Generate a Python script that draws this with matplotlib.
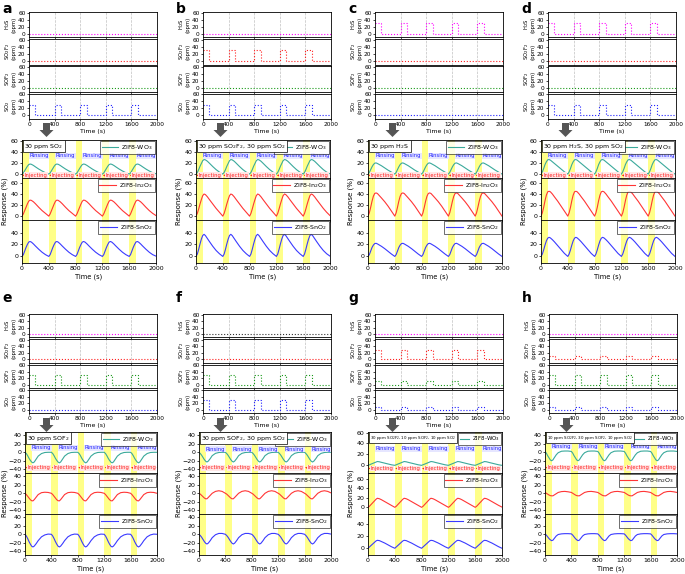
import numpy as np
import matplotlib
matplotlib.use("Agg")
import matplotlib.pyplot as plt
from matplotlib.patches import Polygon

plt.rcParams['font.family'] = ['DejaVu Sans']
plt.rcParams['mathtext.default'] = 'regular'

W, H = 685, 574
fig = plt.figure(figsize=(W / 100, H / 100), dpi=100)

# ---------------- data ----------------
panels = ['a', 'b', 'c', 'd', 'e', 'f', 'g', 'h']
gases = ['H$_2$S', 'SO$_2$F$_2$', 'SOF$_2$', 'SO$_2$']
gas_colors = ['#ff00ff', '#ff2020', '#1a9a1a', '#2020ff']

# pulse amplitudes (ppm) for H2S, SO2F2, SOF2, SO2
conc_a = [0, 0, 0, 30]
conc_b = [0, 30, 0, 30]
conc_c = [30, 0, 0, 0]
conc_d = [30, 0, 0, 30]
conc_e = [0, 0, 30, 0]
conc_f = [0, 0, 30, 30]
conc_g = [0, 30, 10, 10]
conc_h = [0, 10, 30, 10]
conc = [conc_a, conc_b, conc_c, conc_d, conc_e, conc_f, conc_g, conc_h]

pulse_starts = [0, 400, 800, 1200, 1600]
pulse_len = 100
t_end = 2000

titles = ['30 ppm SO$_2$', '30 ppm SO$_2$F$_2$, 30 ppm SO$_2$', '30 ppm H$_2$S',
          '30 ppm H$_2$S, 30 ppm SO$_2$', '30 ppm SOF$_2$', '30 ppm SOF$_2$, 30 ppm SO$_2$',
          '30 ppm SO$_2$F$_2$, 10 ppm SOF$_2$, 10 ppm SO$_2$',
          '10 ppm SO$_2$F$_2$, 30 ppm SOF$_2$, 10 ppm SO$_2$']

# one response cycle (time within cycle, s)
cycle_t = [0, 20, 40, 60, 80, 100, 120, 140, 170, 200, 250, 300, 350, 400]

wo3_a = [0, 2, 6, 10, 14, 17, 18, 17.5, 15.5, 13, 9, 5.5, 2.5, 0.5]
in_a = [0, 4, 10, 16, 22, 27, 29, 28.5, 26, 22.5, 16, 10, 5, 1]
sn_a = [0, 3, 9, 15, 20, 24, 25, 24, 21, 17.5, 12, 7, 3, 0.5]

wo3_b = [0, 3, 8, 14, 19, 24, 26, 25.5, 23, 19.5, 13.5, 8, 3.5, 0.5]
in_b = [0, 5, 13, 22, 30, 37, 40, 39, 35, 30, 22, 14, 7, 1]
sn_b = [0, 4, 12, 21, 29, 35, 37, 35, 30, 25, 17, 10, 4.5, 0.5]

wo3_c = [0, 3, 8, 13, 17, 19.5, 20, 19, 17, 15, 11, 7, 3.5, 0]
in_c = [0, 6, 16, 27, 36, 41, 42, 41, 37, 33, 26, 18, 9, 0]
sn_c = [0, 3, 9, 15, 19, 21.5, 22, 21, 19, 17, 13, 8.5, 4, 0]

wo3_d = [0, 4, 10, 17, 22, 25.5, 26, 25, 22, 19, 14, 9, 4, 0]
in_d = [0, 6, 16, 28, 38, 44, 45, 44, 40, 35, 27, 18, 9, 0]
sn_d = [0, 4, 11, 19, 26, 30.5, 32, 31, 28, 24.5, 18, 11.5, 5, 0]

wo3_e = [0, -3, -8, -14, -19, -23, -25, -23, -16, -9, -3, -0.5, 0, 0]
in_e = [0, -3, -7, -11, -15, -17.5, -18, -15, -9, -3, 1.5, 2.5, 2, 0]
sn_e = [0, -4, -10, -17, -23, -28, -30, -28, -22, -15, -6, -1.5, 0.5, 0]

wo3_f = [0, -3, -7, -12, -17, -21, -23, -21, -15, -8, -2.5, -0.5, 0, 0]
in_f = [0, -2, -5, -8, -11, -13, -13, -10, -5, 0, 4.5, 6, 4.5, 1]
sn_f = [0, -3, -7, -12, -17, -21, -23, -21, -15, -8, -1, 2, 2, 0.5]

wo3_g = [0, 1, 2, 3, 4, 5, 6, 7, 6.5, 5.5, 4, 2.5, 1, 0]
in_g = [0, 2, 5, 8, 11, 14, 17, 19, 18, 16, 12, 8, 4, 0.5]
sn_g = [0, 2, 4, 6, 8, 10, 12, 13, 12.5, 11, 8.5, 5.5, 2.5, 0]

wo3_h = [2, -2, -8, -13, -18, -20, -18, -13, -6, -1, 2.5, 3, 3, 2]
in_h = [2, 0, -2, -4, -5.5, -6, -6, -4, -1, 2, 4, 4.5, 3.5, 2]
sn_h = [1, -2, -6, -10, -13, -15, -14, -10, -4, -0.5, 1, 1.5, 1.5, 1]

responses = [(wo3_a, in_a, sn_a), (wo3_b, in_b, sn_b), (wo3_c, in_c, sn_c), (wo3_d, in_d, sn_d),
             (wo3_e, in_e, sn_e), (wo3_f, in_f, sn_f), (wo3_g, in_g, sn_g), (wo3_h, in_h, sn_h)]
sensors = ['ZIF8-WO$_3$', 'ZIF8-In$_2$O$_3$', 'ZIF8-SnO$_2$']
sensor_colors = ['#3aa99b', '#ff3535', '#3a3aff']
negative = [False, False, False, False, True, True, False, True]

# ---------------- layout helpers ----------------
def add_ax(x0, y0, x1, y1):
    return fig.add_axes([x0 / W, 1 - y1 / H, (x1 - x0) / W, (y1 - y0) / H])

def style(ax):
    for s in ax.spines.values():
        s.set_linewidth(0.6)
    ax.tick_params(labelsize=4.5, length=1.5, width=0.5, pad=1)

def build_cycle(vals):
    t, v = [], []
    for k in range(5):
        t += [ct + 400 * k for ct in cycle_t[:-1]]
        v += vals[:-1]
    t.append(t_end)
    v.append(vals[-1])
    return np.array(t), np.array(v)

def build_pulse(amp):
    t, v = [0], [amp]
    for i, s in enumerate(pulse_starts):
        if i > 0:
            t += [s, s]
            v += [0, amp]
        t += [s + pulse_len, s + pulse_len]
        v += [amp, 0]
    t.append(t_end)
    v.append(0)
    return np.array(t), np.array(v)

col_off_top = [0, 174, 346, 519]
col_off_bot = [0, 174, 346, 520]

for p in range(8):
    row = p // 4
    X = (col_off_top if row == 0 else col_off_bot)[p % 4]
    if row == 0:
        cy0, cy1, gap = 12, 119, 2
        ry = [140, 178, 220, 263]
        letter_y = 9
        arrow_y = 123
    else:
        cy0, cy1, gap = 314, 413, 2
        ry = [432, 473, 514, 555]
        letter_y = 298
        arrow_y = 418
    fig.text((X + 2) / W, 1 - letter_y / H, panels[p], fontsize=10, fontweight='bold',
             va='center', ha='left')

    # concentration axes
    hh = (cy1 - cy0 - 3 * gap) / 4
    for g in range(4):
        y0 = cy0 + g * (hh + gap)
        ax = add_ax(X + 29, y0, X + 157, y0 + hh)
        style(ax)
        tt, vv = build_pulse(conc[p][g])
        col = gas_colors[g]
        if p == 5 and g == 0:
            col = '#333333'
        ax.plot(tt, vv, ls=':', color=col, lw=0.8)
        ax.set_xlim(0, 2000)
        ax.set_ylim(-10, 62)
        ax.set_yticks([0, 20, 40, 60])
        ax.set_xticks([0, 400, 800, 1200, 1600, 2000])
        for xv in [400, 800, 1200, 1600]:
            ax.axvline(xv, ls='--', color='#c0c0c0', lw=0.5, zorder=0)
        ax.set_ylabel(gases[g] + '\n(ppm)', fontsize=3.8, labelpad=1, linespacing=0.9)
        ax.tick_params(labelsize=4.2)
        if g < 3:
            ax.tick_params(labelbottom=False)
        else:
            ax.set_xlabel('Time (s)', fontsize=4.5, labelpad=1)

    # arrow
    ax_x = X + 46.5
    pts = [(ax_x - 3.5, arrow_y), (ax_x + 3.5, arrow_y), (ax_x + 3.5, arrow_y + 7),
           (ax_x + 7, arrow_y + 7), (ax_x, arrow_y + 14), (ax_x - 7, arrow_y + 7),
           (ax_x - 3.5, arrow_y + 7)]
    fig.patches.append(Polygon([(x / W, 1 - y / H) for x, y in pts], closed=True,
                               transform=fig.transFigure, fc='#555555', ec='none', zorder=5))

    # response axes
    neg = negative[p]
    rx0 = X + (25 if neg else 22)
    rx1 = X + (157 if neg else 156)
    fig.text((X + 5) / W, 1 - (ry[0] + ry[3]) / 2 / H, 'Response (%)', fontsize=5,
             rotation=90, va='center', ha='center')
    small = p >= 6
    for i in range(3):
        ax = add_ax(rx0, ry[i], rx1, ry[i + 1])
        style(ax)
        for s in pulse_starts:
            ax.axvspan(s, s + pulse_len, color='#ffff88', lw=0, zorder=0)
        tt, vv = build_cycle(responses[p][i])
        ax.plot(tt, vv, color=sensor_colors[i], lw=0.8, label=sensors[i])
        ax.set_xlim(0, 2000)
        ax.set_xticks([0, 400, 800, 1200, 1600, 2000])
        if neg:
            ax.set_ylim(-49, 48)
            ax.set_yticks([-40, -20, 0, 20, 40])
        else:
            if i == 0:
                ax.set_ylim(-7, 61)
                if p == 6:
                    ax.set_ylim(-14, 61)
                ax.set_yticks([0, 20, 40, 60])
            elif i == 1:
                ax.set_ylim(-7, 69)
                if p == 6:
                    ax.set_ylim(-14, 72)
                ax.set_yticks([0, 20, 40, 60])
            else:
                ax.set_ylim(-11, 61)
                if p == 6:
                    ax.set_ylim(-11, 56)
                ax.set_yticks([0, 20, 40])
        if small and i == 0:
            leg = ax.legend(loc='upper right', fontsize=4.0, frameon=True, fancybox=False,
                            edgecolor='k', borderpad=0.25, handlelength=1.7,
                            handletextpad=0.4, borderaxespad=0.2)
        else:
            leg = ax.legend(loc='upper right', fontsize=4.5, frameon=True, fancybox=False,
                            edgecolor='k', borderpad=0.3, handlelength=2.6,
                            handletextpad=0.5, borderaxespad=0.2)
        leg.get_frame().set_linewidth(0.5)
        if i < 2:
            ax.tick_params(labelbottom=False)
        else:
            ax.set_xlabel('Time (s)', fontsize=4.8, labelpad=1.5)
        if i == 0:
            fs = 2.9 if small else 4.5
            ax.text(0.015, 0.955, titles[p], transform=ax.transAxes, fontsize=fs, va='top',
                    ha='left', bbox=dict(fc='white', ec='k', lw=0.5, pad=1.0), zorder=6)
            tr = ax.get_xaxis_transform()
            if neg:
                yr = {4: 0.62, 5: 0.58, 7: 0.65}[p]
                yi = 0.13
            else:
                yr = 0.59
                yi = 0.07 if p != 6 else 0.11
            for k in range(5):
                b = 400 * k
                ax.annotate('', xy=(b + 390, yr), xytext=(b + 110, yr), xycoords=tr,
                            textcoords=tr,
                            arrowprops=dict(arrowstyle='<|-|>', color='#2020ff', lw=0.5,
                                            ls=':', mutation_scale=2.5, shrinkA=0,
                                            shrinkB=0))
                ax.text(b + 250, yr, 'Rinsing', transform=tr, fontsize=3.8, color='#2020ff',
                        ha='center', va='center',
                        bbox=dict(fc='#e6e6ff', ec='none', pad=0.3))
                ax.annotate('', xy=(b + 395, yi), xytext=(b + 5, yi), xycoords=tr,
                            textcoords=tr,
                            arrowprops=dict(arrowstyle='<|-|>', color='#ff2020', lw=0.5,
                                            ls=':', mutation_scale=2.5, shrinkA=0,
                                            shrinkB=0))
                ax.text(b + 210, yi, 'Injecting', transform=tr, fontsize=3.8,
                        color='#ff2020', ha='center', va='center',
                        bbox=dict(fc='#ffe6e6', ec='none', pad=0.3))

fig.savefig('out.png', dpi=100)
